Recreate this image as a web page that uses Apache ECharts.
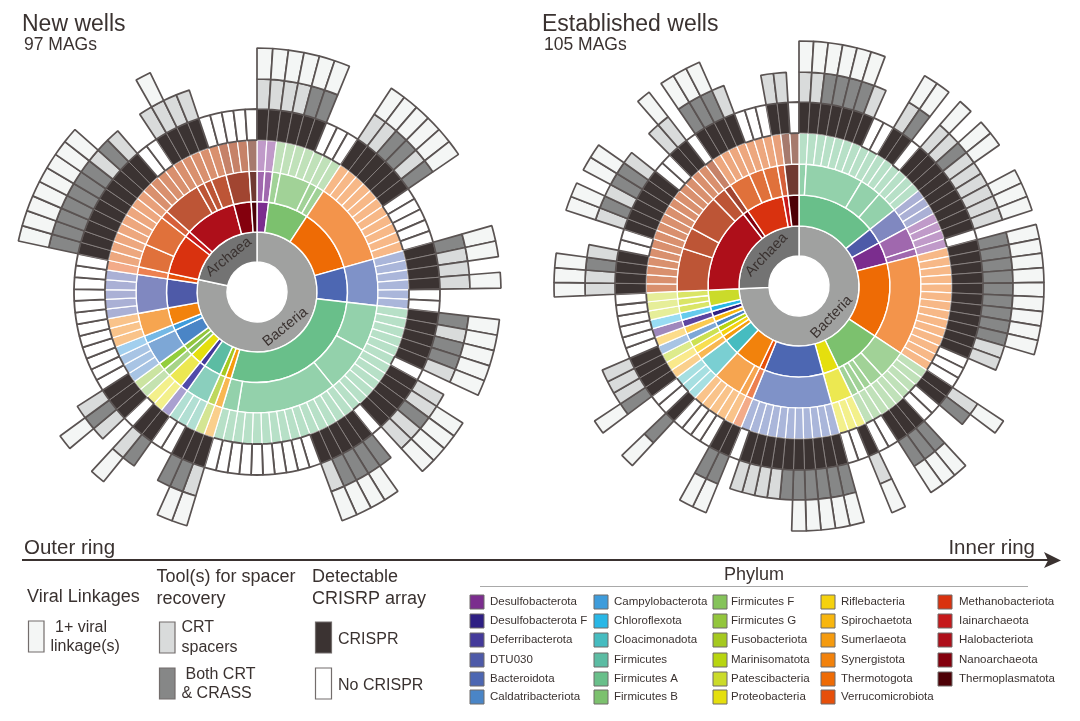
<!DOCTYPE html>
<html>
<head>
<meta charset="utf-8">
<style>html,body{margin:0;padding:0;background:#fff}#c{width:1080px;height:721px}</style>
<script src="https://cdn.jsdelivr.net/npm/echarts@6/dist/echarts.min.js"></script>
</head>
<body>
<div id="c"></div>
<script>
// ---- data: clockwise from 12 o'clock; [phylum, MAGs per class]
const newBacteria = [
  ['Desulfobacterota',[1,1]],['Firmicutes B',[1,4,1,1]],['Thermotogota',[11]],['Bacteroidota',[6]],
  ['Firmicutes A',[6,6,13,2]],['Sumerlaeota',[1]],['Fusobacteriota',[1]],['Firmicutes',[3]],
  ['Deferribacterota',[1]],['Proteobacteria',[2]],['Firmicutes F',[1]],['Firmicutes G',[1]],
  ['Caldatribacteriota',[3]],['Campylobacterota',[1]],['Synergistota',[3]],['DTU030',[5]],['Verrucomicrobiota',[1]]
];
const newArchaea = [
  ['Methanobacteriota',[3,4]],['Iainarchaeota',[1]],['Halobacteriota',[5,1,1,2]],['Nanoarchaeota',[3]],['Thermoplasmatota',[1]]
];
// per MAG: . no CRISPR, D CRISPR, L CRT, G CRT+CRASS; lower case = plus viral linkage
const newFlags = [
  'llllgg','...','llgglg','.....','glLl','..','glggl','.','Llgll','.','Gggg','l','..........',
  'lgG','..','Gl','.','LgL','............','ggggggg','l','G','L','..','LlLL','.....'
].join('');
const establishedBacteria = [
  ['Firmicutes A',[1,8,3,3]],['DTU030',[3]],['Desulfobacterota',[3,1]],['Thermotogota',[14]],
  ['Firmicutes B',[4,2,1,1,1]],['Proteobacteria',[3]],['Bacteroidota',[11]],['Verrucomicrobiota',[1]],
  ['Synergistota',[1,4]],['Cloacimonadota',[3]],['Sumerlaeota',[1]],['Riflebacteria',[1]],['Marinisomatota',[1]],
  ['Caldatribacteriota',[1]],['Spirochaetota',[1]],['Desulfobacterota F',[1]],['Chloroflexota',[1]],['Patescibacteria',[1,1,1]]
];
const establishedArchaea = [
  ['Halobacteriota',[6,3,5,2]],['Nanoarchaeota',[1]],['Methanobacteriota',[3,2,2]],['Iainarchaeota',[1]],['Thermoplasmatota',[2]]
];
const establishedFlags = [
  'llgggg','L','..','lg','.','lLglLLlll','.','ggggggggg','LL','...','lG','..','ggg','..','l','..','ggggg','G','LLLL','.',
  'gg','....','g','..','gLLL','......','llgL','..','lgLggL','..','Ll','.','gggL','...','LL','.'
].join('');

const legendColumns = [
  ['Desulfobacterota','Desulfobacterota F','Deferribacterota','DTU030','Bacteroidota','Caldatribacteriota'],
  ['Campylobacterota','Chloroflexota','Cloacimonadota','Firmicutes','Firmicutes A','Firmicutes B'],
  ['Firmicutes F','Firmicutes G','Fusobacteriota','Marinisomatota','Patescibacteria','Proteobacteria'],
  ['Riflebacteria','Spirochaetota','Sumerlaeota','Synergistota','Thermotogota','Verrucomicrobiota'],
  ['Methanobacteriota','Iainarchaeota','Halobacteriota','Nanoarchaeota','Thermoplasmatota']
];

// ---- styles
const phylumColors = {
  'Desulfobacterota':'#7B2D8E','Desulfobacterota F':'#2E1F83','Deferribacterota':'#443A9A','DTU030':'#4E5AA8',
  'Bacteroidota':'#4D67B2','Caldatribacteriota':'#4A85C6','Campylobacterota':'#3E9CDB','Chloroflexota':'#29B7E6',
  'Cloacimonadota':'#46BCC0','Firmicutes':'#5CBCA3','Firmicutes A':'#69BF8A','Firmicutes B':'#7CC16E',
  'Firmicutes F':'#85C35A','Firmicutes G':'#93C63C','Fusobacteriota':'#A5C91F','Marinisomatota':'#B8D510',
  'Patescibacteria':'#CBDB2A','Proteobacteria':'#E5DF0E','Riflebacteria':'#F5D20E','Spirochaetota':'#F8B60E',
  'Sumerlaeota':'#F59B0F','Synergistota':'#F2820C','Thermotogota':'#EE6B05','Verrucomicrobiota':'#E64F0A',
  'Methanobacteriota':'#D9320F','Iainarchaeota':'#C6191B','Halobacteriota':'#AE0F1A','Nanoarchaeota':'#84000D','Thermoplasmatota':'#4D0006'
};
const classOverride = {
  'Deferribacterota':'#514BAA','Desulfobacterota F':'#5C45A0','Firmicutes G':'#93CE3D',
  'Methanobacteriota':'#E0713B','Iainarchaeota':'#D6603A','Halobacteriota':'#BD5536','Nanoarchaeota':'#A14531','Thermoplasmatota':'#703A32'
};
const magOverride = {
  'Deferribacterota':'#A9A0D0','Desulfobacterota F':'#9F88BC',
  'Methanobacteriota':'#EDA77E','Iainarchaeota':'#E8A07A','Halobacteriota':'#D9906E','Nanoarchaeota':'#C68268','Thermoplasmatota':'#A67A6D'
};
const INK = '#3a3230', EDGE = '#5a5352', FONT = '"Liberation Sans"';
const cellFill = {crispr:'#3B3332', none:'#ffffff', crt:'#D9DBDB', both:'#868787', viral:'#F4F6F5'};

function tint(hex, t) {
  const n = parseInt(hex.slice(1), 16);
  const c = [n >> 16, (n >> 8) & 255, n & 255].map(v => Math.round(v + (255 - v) * t));
  return 'rgb(' + c.join(',') + ')';
}
const fill = (color, border, width) => ({color, borderColor: border, borderWidth: width});

function magNode(name, flag) {
  const lower = flag.toLowerCase();
  if (flag === '.') {
    return {name, value: 1, children: [{name: 'No CRISPR', value: 1, itemStyle: fill(cellFill.none, EDGE, 1.8)}]};
  }
  const crispr = {name: 'CRISPR', value: 1, itemStyle: fill(cellFill.crispr, '#8d8685', 0.8)};
  if (lower !== 'd') {
    const tool = {name: lower === 'l' ? 'CRT spacers' : 'Both CRT & CRASS', value: 1,
      itemStyle: fill(lower === 'l' ? cellFill.crt : cellFill.both, EDGE, 1.7)};
    if (flag === lower) tool.children = [{name: '1+ viral linkage(s)', value: 1, itemStyle: fill(cellFill.viral, EDGE, 1.7)}];
    crispr.children = [tool];
  }
  return {name, value: 1, children: [crispr]};
}

function buildTree(bacteria, archaea, flags) {
  let i = 0;
  const phylumNode = ([name, classes]) => {
    const base = phylumColors[name];
    const classColor = classOverride[name] || tint(base, 0.28);
    const magColor = magOverride[name] || tint(base, 0.52);
    return {name, itemStyle: fill(base, '#fff', 1.4), children: classes.map(count => ({
      name, itemStyle: fill(classColor, '#fff', 1.4),
      children: Array.from({length: count}, () => {
        const m = magNode(name, flags[i++]);
        m.itemStyle = fill(magColor, '#fff', 1.2);
        return m;
      })
    }))};
  };
  return [
    {name: 'Bacteria', itemStyle: fill('#A0A1A0', '#fff', 1.4), children: bacteria.map(phylumNode)},
    {name: 'Archaea', itemStyle: fill('#737373', '#fff', 1.4), children: archaea.map(phylumNode)}
  ];
}

function wheel(center, rings, data) {
  const levels = [{}];
  for (let k = 0; k < rings.length - 1; k++) {
    levels.push({r0: rings[k], r: rings[k + 1], label: {show: k === 0, rotate: 'tangential', color: INK,
      fontFamily: FONT, fontSize: 14.5, align: 'center', verticalAlign: 'middle'}});
  }
  return {type: 'sunburst', center, radius: [rings[0], rings[rings.length - 1]], sort: null, startAngle: 90,
    nodeClick: false, silent: true, animation: false, label: {show: false}, levels, data};
}

const text = (t, x, y, size, extra) => ({type: 'text', silent: true, style: Object.assign(
  {text: t, x, y, font: size + 'px ' + FONT, fill: INK, align: 'left', verticalAlign: 'middle'}, extra || {})});
const box = (x, y, w, h, color, stroke, lw) => ({type: 'rect', silent: true, shape: {x, y, width: w, height: h},
  style: {fill: color, stroke: stroke || '#736d6c', lineWidth: lw || 1.2}});

const graphics = [
  text('New wells', 22, 25, 23), text('97 MAGs', 24, 45.5, 17.5),
  text('Established wells', 542, 25, 23), text('105 MAGs', 544, 45.5, 17.5),
  text('Outer ring', 24, 548, 20.5), text('Inner ring', 1035, 548, 20.5, {align: 'right'}),
  {type: 'line', silent: true, shape: {x1: 22, y1: 560, x2: 1050, y2: 560}, style: {stroke: INK, lineWidth: 1.8}},
  {type: 'polygon', silent: true, shape: {points: [[1044, 552], [1061, 560.5], [1044, 568], [1048, 560.5]]}, style: {fill: INK}},
  text('Viral Linkages', 27, 597, 18),
  text('Tool(s) for spacer', 156.5, 577, 18), text('recovery', 156.5, 599, 18),
  text('Detectable', 312, 577, 18), text('CRISRP array', 312, 599, 18),
  box(28.5, 621, 15.5, 31, cellFill.viral),
  text('1+ viral', 55, 627.5, 16), text('linkage(s)', 50.5, 647, 16),
  box(159.5, 622, 15.5, 31, cellFill.crt),
  text('CRT', 181.5, 628, 16), text('spacers', 181.5, 648, 16),
  box(159.5, 668, 15.5, 31, cellFill.both),
  text('Both CRT', 185.5, 674.5, 16), text('& CRASS', 181.5, 693.5, 16),
  box(315.5, 622, 16, 31, cellFill.crispr),
  text('CRISPR', 338, 640, 16),
  box(315.5, 668, 16, 31, cellFill.none),
  text('No CRISPR', 338, 686, 16),
  text('Phylum', 754, 575, 18, {align: 'center'}),
  {type: 'line', silent: true, shape: {x1: 480, y1: 586.5, x2: 1028, y2: 586.5}, style: {stroke: '#a9a9a9', lineWidth: 1}}
];
const columnSwatchX = [470, 594, 713, 821, 938];
const columnTextX = [490, 614, 731, 841, 959];
const rowY = [602, 621, 640, 660, 679, 697];
legendColumns.forEach((names, c) => names.forEach((name, r) => {
  graphics.push(box(columnSwatchX[c], rowY[r] - 7, 14, 14, phylumColors[name], '#6e6a68', 1));
  graphics.push(text(name, columnTextX[c], rowY[r], 11.5));
}));

const chart = echarts.init(document.getElementById('c'), null, {renderer: 'canvas'});
chart.setOption({
  animation: false,
  backgroundColor: '#fff',
  graphic: graphics,
  series: [
    wheel([257, 292], [30, 60, 90.5, 121, 152, 183, 213, 244], buildTree(newBacteria, newArchaea, newFlags)),
    wheel([799, 286], [30, 60, 91, 122, 153, 184, 214, 245], buildTree(establishedBacteria, establishedArchaea, establishedFlags))
  ]
});
</script>
</body>
</html>
